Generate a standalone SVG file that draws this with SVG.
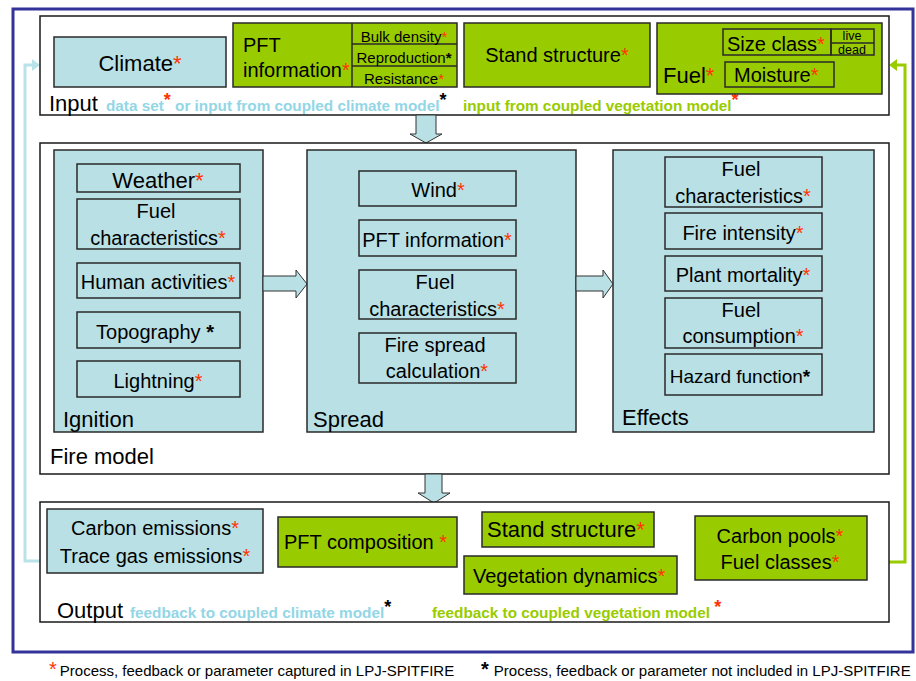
<svg xmlns="http://www.w3.org/2000/svg" width="916" height="681" viewBox="0 0 916 681">
<style>
text{font-family:"Liberation Sans",Arial,sans-serif;fill:#000}
.lb{fill:#b9e0e4;stroke:#2a2a2a;stroke-width:1.5}
.gr{fill:#99cc00;stroke:#2a2a2a;stroke-width:1.5}
.wh{fill:#fff;stroke:#1a1a1a;stroke-width:1.5}
.t20{font-size:20px}
.t22{font-size:22px}
.t15{font-size:15px}
.t12{font-size:12.5px}
.m{text-anchor:middle}
.r{fill:#ff3300}
.k{fill:#000;font-weight:bold}
.cap{font-size:15.3px;font-weight:bold}
.cb{fill:#93d6e6}
.cg{fill:#99cc00}
.arr{fill:#b9e0e4;stroke:#333;stroke-width:1}
</style>

<rect x="13" y="9" width="900" height="643" fill="#fff" stroke="#333399" stroke-width="3"/>

<g id="connectors">
  <polyline points="47,561 25,561 25,65 33,65" fill="none" stroke="#b9e3e8" stroke-width="3"/>
  <polygon points="32,59 40,65 32,71" fill="#b9e3e8"/>
  <polyline points="866,562 905,562 905,65 897,65" fill="none" stroke="#99cc00" stroke-width="3"/>
  <polygon points="897,59 889,65 897,71" fill="#99cc00"/>
</g>

<g id="input">
  <rect class="wh" x="40" y="16" width="849" height="99"/>
  <text class="t22" x="49" y="111">Input</text>
  <text class="cap" x="106" y="111"><tspan class="cb">data set</tspan><tspan class="r" font-size="18" dy="-5">*</tspan><tspan class="cb" dy="5"> or input from coupled climate model</tspan><tspan font-size="18" dy="-5">*</tspan></text>
  <text class="cap" x="463" y="111"><tspan class="cg">input from coupled vegetation model</tspan><tspan class="r" font-size="18" dy="-5">*</tspan></text>
</g>

<g id="climate">
  <rect class="lb" x="54" y="37" width="172" height="50"/>
  <text class="t22 m" x="140" y="71">Climate<tspan class="r">*</tspan></text>
</g>

<g id="pft-info-input">
  <rect class="gr" x="233" y="23" width="224" height="64"/>
  <line x1="352" y1="23" x2="352" y2="87" stroke="#2a2a2a" stroke-width="1.5"/>
  <line x1="352" y1="44" x2="457" y2="44" stroke="#2a2a2a" stroke-width="1.5"/>
  <line x1="352" y1="66" x2="457" y2="66" stroke="#2a2a2a" stroke-width="1.5"/>
  <text class="t20" x="243" y="52">PFT</text>
  <text class="t20" x="243" y="77">information<tspan class="r">*</tspan></text>
  <text class="t15 m" x="404" y="42">Bulk density<tspan class="r">*</tspan></text>
  <text class="t15 m" x="404" y="63">Reproduction<tspan font-weight="bold">*</tspan></text>
  <text class="t15 m" x="404" y="84">Resistance<tspan class="r">*</tspan></text>
</g>

<g id="stand-structure-input">
  <rect class="gr" x="464" y="23" width="186" height="64"/>
  <text class="t20 m" x="557" y="62">Stand structure<tspan class="r">*</tspan></text>
</g>

<g id="fuel-input">
  <rect class="gr" x="657" y="23" width="225" height="71"/>
  <text class="t22" x="663" y="83">Fuel<tspan class="r">*</tspan></text>
  <rect x="723" y="29" width="108" height="26" fill="none" stroke="#2a2a2a" stroke-width="1.5"/>
  <rect x="831" y="29" width="43" height="26" fill="none" stroke="#2a2a2a" stroke-width="1.5"/>
  <line x1="831" y1="43" x2="874" y2="43" stroke="#2a2a2a" stroke-width="1.5"/>
  <text class="t20" x="727" y="51">Size class<tspan class="r">*</tspan></text>
  <text class="t12 m" x="852" y="40">live</text>
  <text class="t12 m" x="852" y="54">dead</text>
  <rect x="725" y="62" width="109" height="25" fill="none" stroke="#2a2a2a" stroke-width="1.5"/>
  <text class="t20" x="734" y="82">Moisture<tspan class="r">*</tspan></text>
</g>

<g id="arrow-input-fire">
  <polygon class="arr" points="416,115 436,115 436,134 442,134 426,143 410,134 416,134"/>
</g>

<g id="fire-model">
  <rect class="wh" x="40" y="143" width="849" height="331"/>
  <text class="t22" x="50" y="464">Fire model</text>
</g>

<g id="ignition">
  <rect class="lb" x="54" y="150" width="209" height="282"/>
  <text class="t22" x="63" y="427">Ignition</text>
  <rect class="lb" x="77" y="164" width="163" height="28"/>
  <text class="t22 m" x="158" y="188">Weather<tspan class="r">*</tspan></text>
  <rect class="lb" x="77" y="199" width="163" height="50"/>
  <text class="t20 m" x="156" y="218">Fuel</text>
  <text class="t20 m" x="158" y="245">characteristics<tspan class="r">*</tspan></text>
  <rect class="lb" x="77" y="263" width="163" height="35"/>
  <text class="t20 m" x="158" y="289">Human activities<tspan class="r">*</tspan></text>
  <rect class="lb" x="77" y="312" width="163" height="36"/>
  <text class="t20 m" x="155" y="339">Topography <tspan font-weight="bold">*</tspan></text>
  <rect class="lb" x="77" y="361" width="163" height="36"/>
  <text class="t20 m" x="158" y="388">Lightning<tspan class="r">*</tspan></text>
</g>

<g id="arrow-ignition-spread">
  <polygon class="arr" points="263,276 296,276 296,270 307,284 296,298 296,291 263,291"/>
</g>

<g id="spread">
  <rect class="lb" x="307" y="150" width="269" height="282"/>
  <text class="t22" x="313" y="427">Spread</text>
  <rect class="lb" x="359" y="171" width="157" height="35"/>
  <text class="t20 m" x="438" y="197">Wind<tspan class="r">*</tspan></text>
  <rect class="lb" x="359" y="220" width="157" height="36"/>
  <text class="t20 m" x="437" y="247">PFT information<tspan class="r">*</tspan></text>
  <rect class="lb" x="359" y="270" width="157" height="49"/>
  <text class="t20 m" x="435" y="289">Fuel</text>
  <text class="t20 m" x="437" y="316">characteristics<tspan class="r">*</tspan></text>
  <rect class="lb" x="359" y="333" width="157" height="50"/>
  <text class="t20 m" x="435" y="352">Fire spread</text>
  <text class="t20 m" x="437" y="378">calculation<tspan class="r">*</tspan></text>
</g>

<g id="arrow-spread-effects">
  <polygon class="arr" points="576,276 603,276 603,270 613,284 603,298 603,291 576,291"/>
</g>

<g id="effects">
  <rect class="lb" x="613" y="150" width="261" height="282"/>
  <text class="t22" x="622" y="425">Effects</text>
  <rect class="lb" x="665" y="157" width="157" height="50"/>
  <text class="t20 m" x="741" y="176">Fuel</text>
  <text class="t20 m" x="743" y="203">characteristics<tspan class="r">*</tspan></text>
  <rect class="lb" x="665" y="213" width="157" height="36"/>
  <text class="t20 m" x="743" y="240">Fire intensity<tspan class="r">*</tspan></text>
  <rect class="lb" x="665" y="256" width="157" height="35"/>
  <text class="t20 m" x="743" y="282">Plant mortality<tspan class="r">*</tspan></text>
  <rect class="lb" x="665" y="298" width="157" height="50"/>
  <text class="t20 m" x="741" y="317">Fuel</text>
  <text class="t20 m" x="743" y="343">consumption<tspan class="r">*</tspan></text>
  <rect class="lb" x="665" y="354" width="157" height="41"/>
  <text class="m" font-size="19" x="740" y="383">Hazard function<tspan font-weight="bold">*</tspan></text>
</g>

<g id="arrow-fire-output">
  <polygon class="arr" points="425,474 442,474 442,493 450,493 434,503 418,493 425,493"/>
</g>

<g id="output">
  <rect class="wh" x="40" y="502" width="849" height="120"/>
  <text class="t22" x="57" y="618">Output</text>
  <text class="cap" x="130" y="618"><tspan class="cb">feedback to coupled climate model</tspan><tspan font-size="18" dy="-5">*</tspan></text>
  <text class="cap" x="432" y="618"><tspan class="cg">feedback to coupled vegetation model </tspan><tspan class="r" font-size="18" dy="-5">*</tspan></text>
</g>

<g id="emissions">
  <rect class="lb" x="47" y="509" width="216" height="64"/>
  <text class="t20 m" x="155" y="535">Carbon emissions<tspan class="r">*</tspan></text>
  <text class="t20 m" x="155" y="563">Trace gas emissions<tspan class="r">*</tspan></text>
</g>

<g id="pft-composition">
  <rect class="gr" x="278" y="517" width="179" height="50"/>
  <text class="t20" x="284" y="549">PFT composition <tspan class="r">*</tspan></text>
</g>

<g id="stand-structure-output">
  <rect class="gr" x="482" y="512" width="172" height="35"/>
  <text class="t22" x="487" y="537">Stand structure<tspan class="r">*</tspan></text>
</g>

<g id="vegetation-dynamics">
  <rect class="gr" x="464" y="556" width="213" height="38"/>
  <text class="t20" x="473" y="583">Vegetation dynamics<tspan class="r">*</tspan></text>
</g>

<g id="carbon-pools">
  <rect class="gr" x="695" y="516" width="172" height="64"/>
  <text class="t20 m" x="780" y="543">Carbon pools<tspan class="r">*</tspan></text>
  <text class="t20 m" x="780" y="569">Fuel classes<tspan class="r">*</tspan></text>
</g>

<g id="legend">
  <text x="49" y="676"><tspan class="r" font-size="20">*</tspan><tspan class="t15" dx="3">Process, feedback or parameter captured in LPJ-SPITFIRE</tspan></text>
  <text x="481" y="676"><tspan font-size="20" font-weight="bold">*</tspan><tspan class="t15" dx="5">Process, feedback or parameter not included in LPJ-SPITFIRE</tspan></text>
</g>
</svg>
